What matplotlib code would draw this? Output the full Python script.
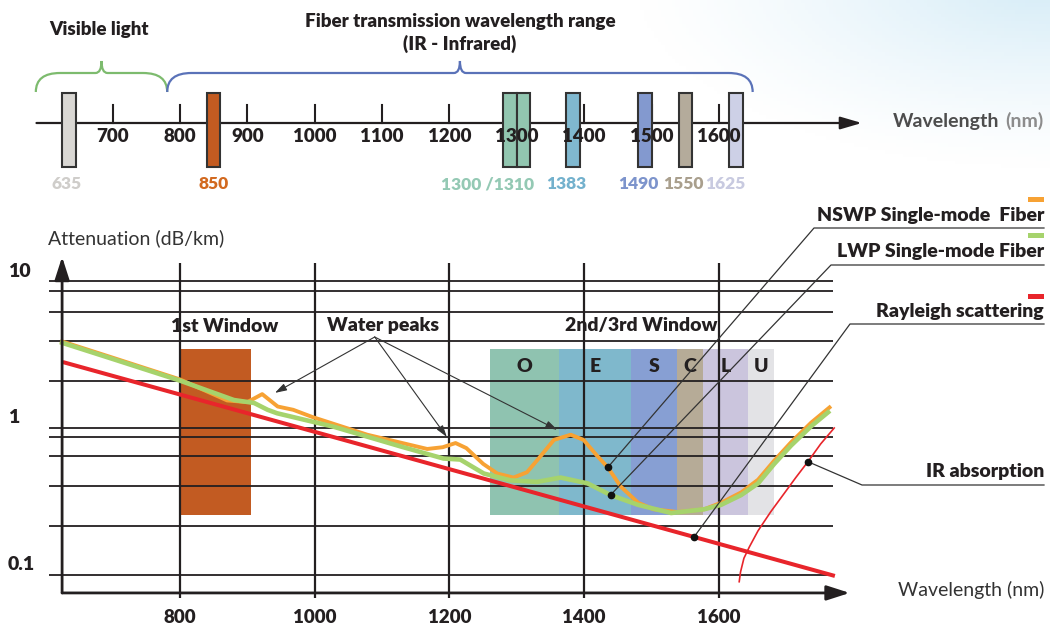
import numpy as np
import matplotlib.pyplot as plt
from matplotlib.path import Path
from matplotlib.patches import PathPatch, Rectangle

plt.rcParams['font.family'] = ['Lato', 'DejaVu Sans']

INK = '#231f20'
ORANGE = '#f7a234'
GREEN = '#a6d36c'
RED = '#e8252b'
BOLD = 'heavy'

# ---- top strip: wavelengths used in fiber optics
strip_ticks = [700, 800, 900, 1000, 1100, 1200, 1300, 1400, 1500, 1600]
marked_wl = [635, 850, 1300, 1310, 1383, 1490, 1550, 1625]
marked_fill = ['#d9d7d3', '#c35b21', '#92c6b0', '#92c6b0', '#80b8cf', '#8399cf', '#b4ab9b', '#cdd0e6']
marked_labels = ['635', '850', '1300 /1310', '1383', '1490', '1550', '1625']
marked_label_wl = [635, 850, 1300, 1383, 1490, 1550, 1625]
marked_label_colors = ['#cfcdca', '#d2691f', '#94c9b4', '#73b1cd', '#7d94cc', '#a99f8d', '#c8cae0']
visible_span = (586, 781)
ir_span = (781, 1650)

# ---- attenuation chart
x_ticks = [800, 1000, 1200, 1400, 1600]
y_ticks = [10, 1, 0.1]
grid_levels = [10, 8.5, 6.2, 3.9, 2.1, 1, 0.87, 0.64, 0.40, 0.215, 0.1]

nswp_wl = [625, 700, 800, 870, 900, 922, 945, 968, 996, 1078, 1167, 1190, 1209, 1225,
           1250, 1271, 1295, 1315, 1331, 1355, 1380, 1399, 1420, 1435, 1454, 1480,
           1503, 1539, 1578, 1603, 1633, 1658, 1682, 1707, 1737, 1764]
nswp_att = [3.88, 3.01, 2.14, 1.54, 1.50, 1.70, 1.40, 1.33, 1.19, 0.90, 0.72, 0.74, 0.79, 0.73,
            0.57, 0.49, 0.46, 0.50, 0.61, 0.83, 0.90, 0.83, 0.64, 0.54, 0.40, 0.31,
            0.28, 0.268, 0.28, 0.31, 0.365, 0.445, 0.60, 0.80, 1.09, 1.38]

lwp_wl = [625, 700, 800, 880, 910, 930, 944, 1028, 1127, 1191, 1216, 1251, 1291, 1330,
          1365, 1405, 1439, 1480, 1529, 1578, 1603, 1633, 1658, 1682, 1707, 1737, 1762]
lwp_att = [3.80, 2.95, 2.10, 1.55, 1.48, 1.33, 1.26, 1.02, 0.75, 0.62, 0.61, 0.49, 0.44, 0.43,
           0.46, 0.42, 0.35, 0.30, 0.264, 0.28, 0.30, 0.35, 0.42, 0.57, 0.76, 1.03, 1.28]

rayleigh_wl = [626, 1772]
rayleigh_att = [2.81, 0.0985]

ir_wl = [1630, 1632, 1637, 1645, 1658, 1677, 1697, 1714, 1732, 1751, 1771]
ir_att = [0.090, 0.105, 0.13, 0.155, 0.20, 0.27, 0.36, 0.46, 0.59, 0.78, 1.0]

first_window = (800, 906)
window_att = (0.256, 3.45)
band_names = ['O', 'E', 'S', 'C', 'L', 'U']
band_edges = [1260, 1363, 1470, 1538, 1576, 1643, 1682]
band_colors = ['#8fc3b0', '#7fb8cc', '#879fd3', '#b6ab97', '#cbc5dd', '#e3e3e6']
water_peaks = [922, 1209, 1380]

# ---------------------------------------------------------------
fig = plt.figure(figsize=(10.5, 6.3), dpi=100)

# background tint in the top right corner
bg = fig.add_axes([0, 0, 1, 1], zorder=0)
bg.axis('off')
gx, gy = np.meshgrid(np.linspace(0, 1050, 300), np.linspace(0, 630, 180))
dist = np.hypot((gx - 1050) / 420, (gy + 20) / 190)
alpha = np.clip(1 - dist, 0, 1) ** 1.3 * 0.75
tint = np.zeros(gx.shape + (4,))
tint[..., 0], tint[..., 1], tint[..., 2] = 0.78, 0.90, 0.96
tint[..., 3] = alpha
bg.imshow(tint, extent=(0, 1050, 630, 0), aspect='auto')
bg.set_xlim(0, 1050)
bg.set_ylim(630, 0)

xlim = (532.84, 2091.3)

# attenuation axes (log y)
ax = fig.add_axes([0, 0, 1, 1], zorder=1)
ax.patch.set_alpha(0)
ax.set_yscale('log')
ax.set_xlim(*xlim)
ax.set_ylim(0.04225, 815.8)
ax.axis('off')

# strip axes: x in nm, y in pixels from the top
top = fig.add_axes([0, 0, 1, 1], zorder=2)
top.patch.set_alpha(0)
top.set_xlim(*xlim)
top.set_ylim(630, 0)
top.axis('off')

# overlay for labels, pixel units
ov = fig.add_axes([0, 0, 1, 1], zorder=3)
ov.patch.set_alpha(0)
ov.set_xlim(0, 1050)
ov.set_ylim(630, 0)
ov.axis('off')

# ---------------- top strip ----------------
top.annotate('', xy=(1812, 123), xytext=(587, 123),
             arrowprops=dict(arrowstyle='-|>,head_length=1.3,head_width=0.38',
                             color=INK, lw=1.6, shrinkA=0, shrinkB=0))
for t in strip_ticks:
    top.plot([t, t], [105, 123], color=INK, lw=1.5, zorder=2)
    top.text(t, 136, str(t), ha='center', va='center', fontsize=13.5,
             fontweight=BOLD, color=INK, zorder=5)

for w, c in zip(marked_wl, marked_fill):
    left = w - 20 if w == 1300 else w - 10
    top.add_patch(Rectangle((left, 93), 20, 74, fc=c, ec='#333333', lw=1.5, zorder=4))

label_nudge = [-3, 0, -43, -9, -9, -3, -15]
for lab, w, c, d in zip(marked_labels, marked_label_wl, marked_label_colors, label_nudge):
    top.text(w + d, 184, lab, ha='center', va='center', fontsize=12.5,
             fontweight=BOLD, color=c)


def brace(x0, x1, color):
    m = (x0 + x1) / 2
    r, p = 36, 9
    yb, yf, yp = 92, 73, 61
    verts = [(x0, yb), (x0, yf), (x0 + r, yf), (m - p, yf), (m, yf), (m, yp),
             (m, yf), (m + p, yf), (x1 - r, yf), (x1, yf), (x1, yb)]
    codes = [Path.MOVETO, Path.CURVE3, Path.CURVE3, Path.LINETO, Path.CURVE3, Path.CURVE3,
             Path.CURVE3, Path.CURVE3, Path.LINETO, Path.CURVE3, Path.CURVE3]
    top.add_patch(PathPatch(Path(verts, codes), fill=False, ec=color, lw=1.6))
    return m


mv = brace(*visible_span, '#7dbb6e')
mi = brace(*ir_span, '#5a72b8')
top.text(mv - 4, 30, 'Visible light', ha='center', va='center', fontsize=13.5,
         fontweight=BOLD, color=INK)
top.text(mi, 21, 'Fiber transmission wavelength range', ha='center', va='center',
         fontsize=13.5, fontweight=BOLD, color=INK)
top.text(mi, 44, '(IR - Infrared)', ha='center', va='center', fontsize=13.5,
         fontweight=BOLD, color=INK)

ov.text(1044, 121, '(nm)', ha='right', va='center', fontsize=14,
        fontweight='bold', color='#8c8c8c')
ov.text(999, 121, 'Wavelength', ha='right', va='center', fontsize=14,
        fontweight='bold', color='#4d4d4d')

# ---------------- attenuation chart ----------------
ax.add_patch(Rectangle((first_window[0], window_att[0]), first_window[1] - first_window[0],
                       window_att[1] - window_att[0], fc='#c25b22', ec='none', zorder=1))
for i, name in enumerate(band_names):
    x0, x1 = band_edges[i], band_edges[i + 1]
    ax.add_patch(Rectangle((x0, window_att[0]), x1 - x0, window_att[1] - window_att[0],
                           fc=band_colors[i], ec='none', zorder=1))
    ax.text((x0 + x1) / 2, 2.6, name, ha='center', va='center', fontsize=14,
            fontweight=BOLD, color=INK, zorder=6)

ax.hlines(grid_levels, 605.6, 1769, color=INK, lw=1.3, zorder=2)
ax.vlines(x_ticks, 0.0697, 13.26, color=INK, lw=1.6, zorder=2)

ax.annotate('', xy=(625, 14.6), xytext=(625, 0.0755),
            arrowprops=dict(arrowstyle='-|>,head_length=1.4,head_width=0.45',
                            color=INK, lw=2, shrinkA=0, shrinkB=0), zorder=6)
ax.annotate('', xy=(1794, 0.0755), xytext=(625, 0.0755),
            arrowprops=dict(arrowstyle='-|>,head_length=1.4,head_width=0.45',
                            color=INK, lw=2, shrinkA=0, shrinkB=0), zorder=6)

for t in x_ticks:
    ax.text(t, 0.0755, f'\n{t}', ha='center', va='top', fontsize=13.5,
            fontweight=BOLD, color=INK, linespacing=0.95)
for v in y_ticks:
    ov.text(8, ov.transData.inverted().transform(ax.transData.transform((800, v)))[1] - 10,
            f'{v:g}', ha='left', va='center', fontsize=14, fontweight=BOLD, color=INK)

ov.text(48, 238, 'Attenuation (dB/km)', ha='left', va='center', fontsize=14, color='#333333')
ov.text(1044, 590, 'Wavelength (nm)', ha='right', va='center', fontsize=14, color='#333333')

ax.plot(rayleigh_wl, rayleigh_att, color=RED, lw=2.9, zorder=3, solid_capstyle='butt')
ax.plot(ir_wl, ir_att, color=RED, lw=1.2, zorder=3)
ax.plot(nswp_wl, nswp_att, color=ORANGE, lw=2.8, zorder=4, solid_joinstyle='round')
ax.plot(lwp_wl, lwp_att, color=GREEN, lw=3.3, zorder=5, solid_joinstyle='round')

ov.text(225, 326, '1st Window', ha='center', va='center', fontsize=14,
        fontweight=BOLD, color=INK)
ov.text(641, 325, '2nd/3rd Window', ha='center', va='center', fontsize=14,
        fontweight=BOLD, color=INK)
ov.text(383, 326, 'Water peaks', ha='center', va='center', fontsize=14,
        fontweight=BOLD, color=INK)

peak_shift = [(19, 1.02), (-13, 1.10), (-20, 1.08)]
for w, (dx, fy) in zip(water_peaks, peak_shift):
    a = nswp_att[nswp_wl.index(w)]
    ax.annotate('', xy=(w + dx, a * fy), xytext=(1089, 4.16),
                arrowprops=dict(arrowstyle='-|>,head_length=0.7,head_width=0.22',
                                color='#333333', lw=0.8, shrinkA=0, shrinkB=0), zorder=7)


def to_ov(w, a):
    return ov.transData.inverted().transform(ax.transData.transform((w, a)))


ray_dot = 10 ** np.interp(1563, rayleigh_wl, np.log10(rayleigh_att))
legend_rows = [
    ('NSWP Single-mode  Fiber', ORANGE, 215, 228, 814, (1435, nswp_att[nswp_wl.index(1435)]), 197),
    ('LWP Single-mode Fiber', GREEN, 252, 265, 831, (1439, lwp_att[lwp_wl.index(1439)]), 233),
    ('Rayleigh scattering', RED, 312, 324, 850, (1563, ray_dot), 294),
]
for text, col, ty, uy, ux, dot, sy in legend_rows:
    dx, dy = to_ov(*dot)
    ov.plot([dx, ux, 1044], [dy, uy, uy], color='#333333', lw=0.9)
    ov.plot(dx, dy, 'o', color='#111111', ms=4.5)
    ov.text(1044, ty, text, ha='right', va='center', fontsize=14,
            fontweight=BOLD, color=INK)
    ov.add_patch(Rectangle((1028, sy), 16, 5, fc=col, ec='none'))

dx, dy = to_ov(1732, ir_att[ir_wl.index(1732)])
ov.plot([dx, 862, 1044], [dy, 485, 485], color='#333333', lw=0.9)
ov.plot(dx, dy, 'o', color='#111111', ms=4.5)
ov.text(1044, 472, 'IR absorption', ha='right', va='center', fontsize=14,
        fontweight=BOLD, color=INK)

fig.savefig('out.png', dpi=100)
